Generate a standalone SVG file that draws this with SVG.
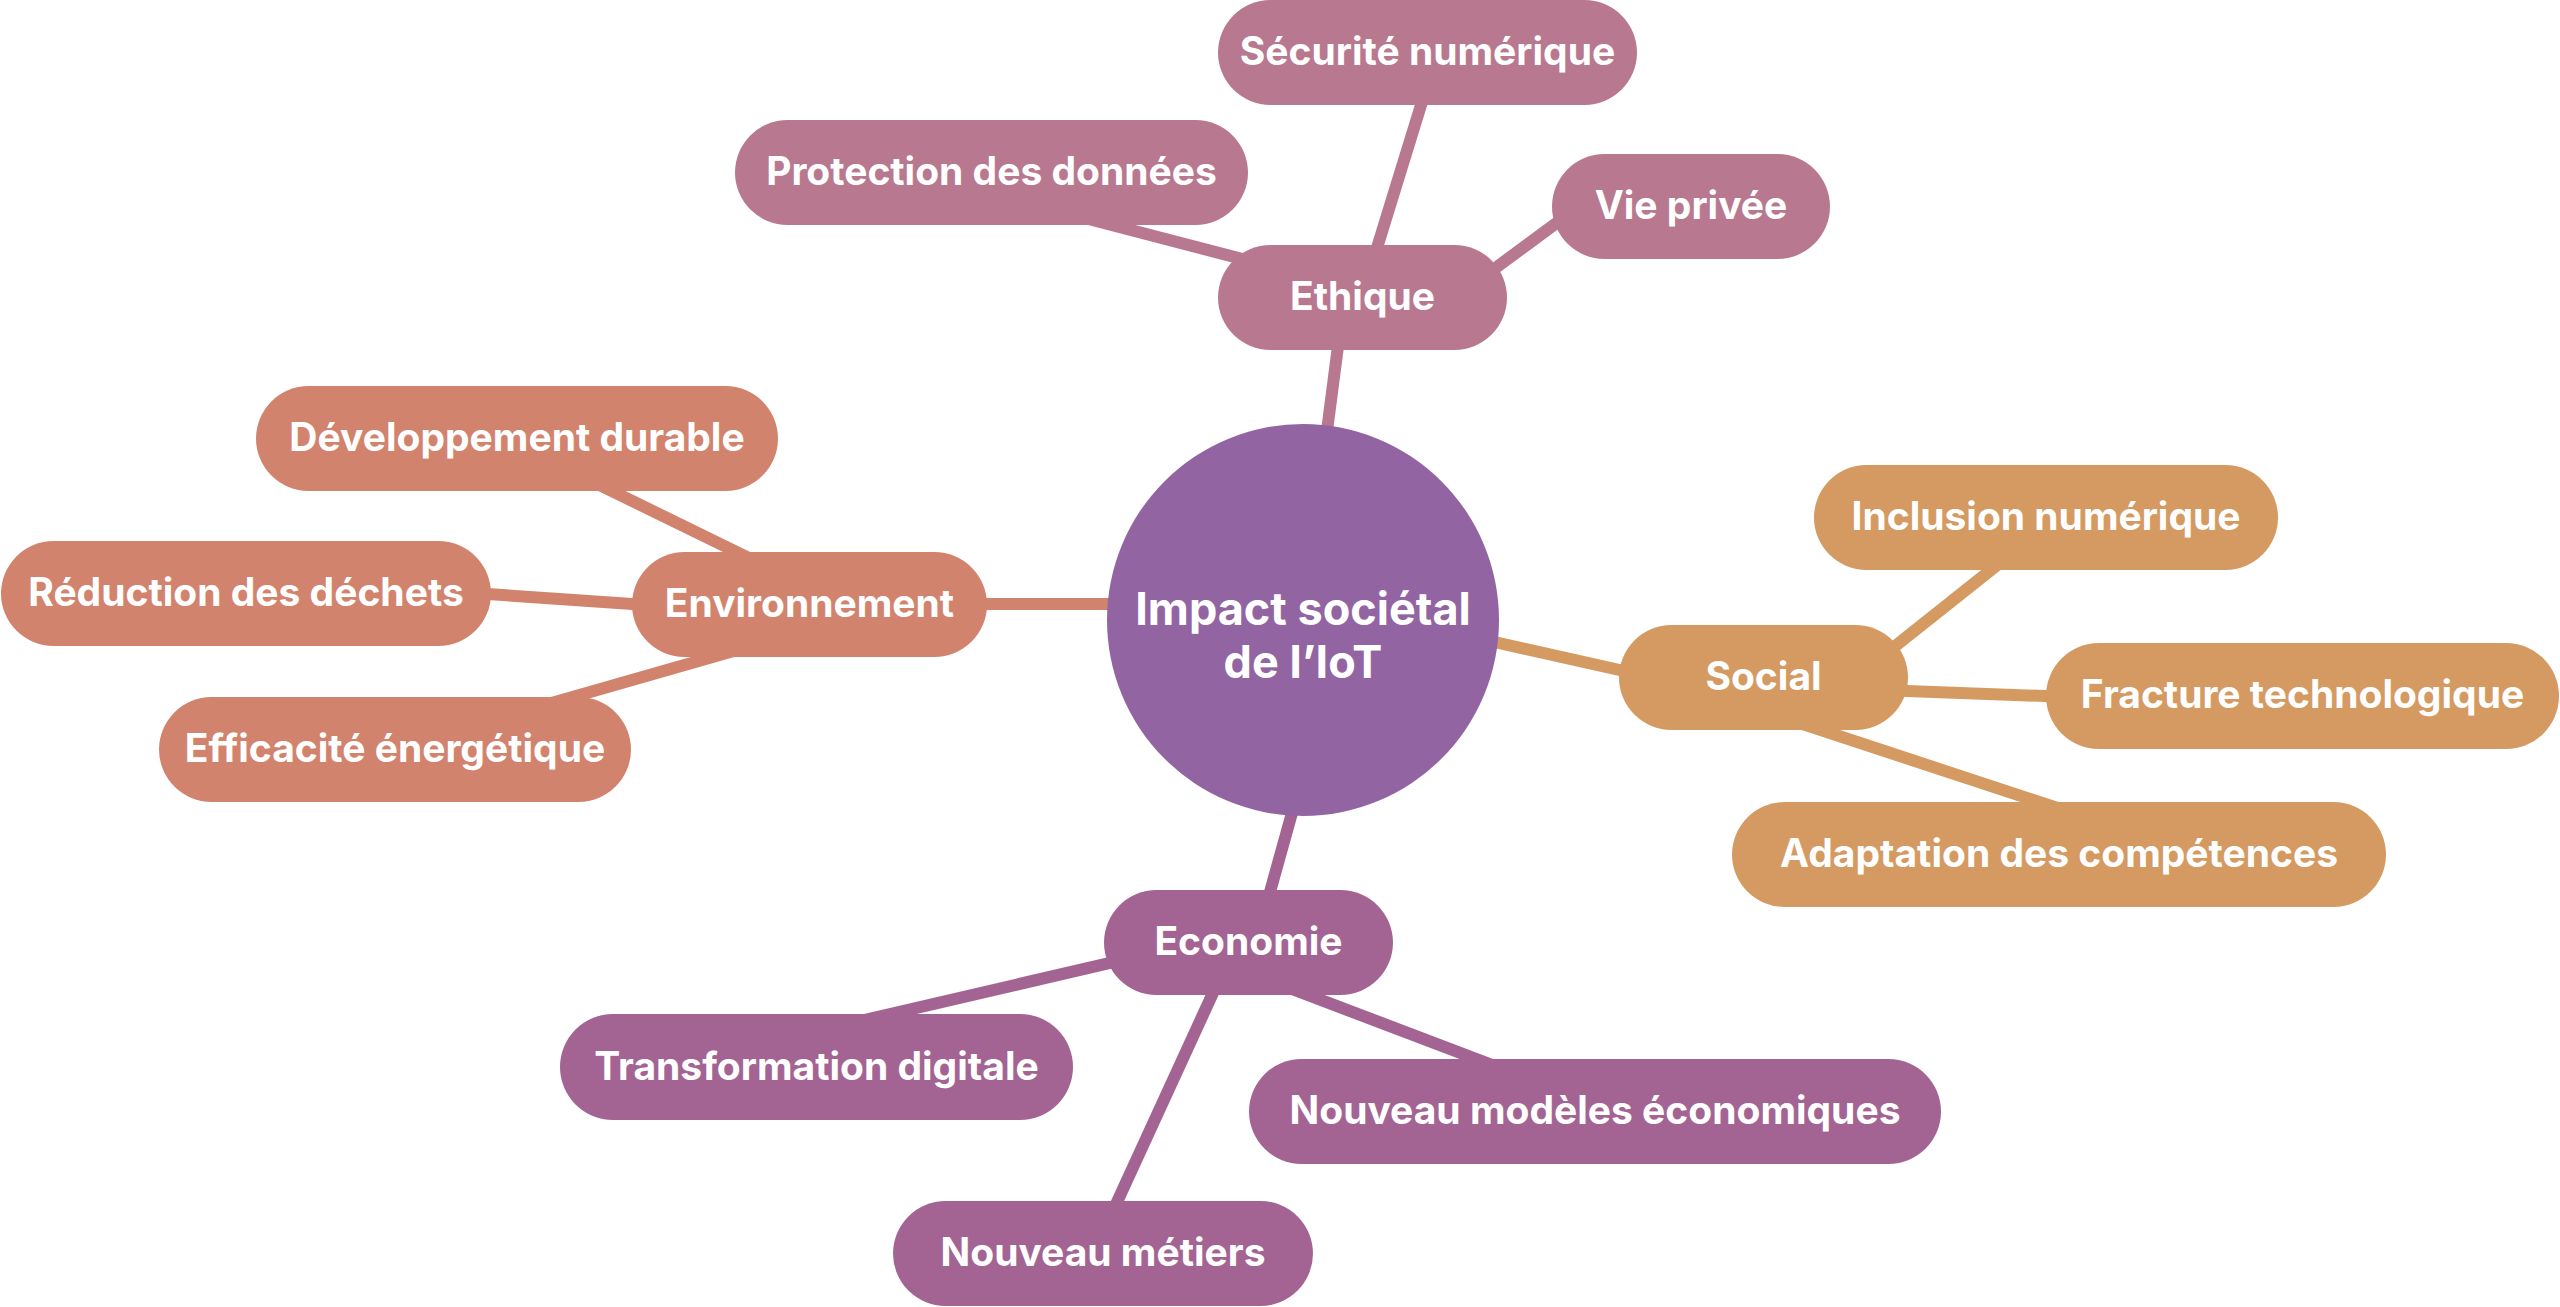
<svg xmlns="http://www.w3.org/2000/svg" width="2560" height="1307" viewBox="0 0 2560 1307">
<style>
  text { font-family: Inter, "Noto Sans", "Liberation Sans", sans-serif; font-weight: 700; fill: #ffffff; text-anchor: middle; }
  .lbl { font-size: 39px; }
  .center-lbl { font-size: 45px; }
  .eth { fill: #B8788F; }
  .env { fill: #D2836D; }
  .soc { fill: #D49A62; }
  .eco { fill: #A36493; }
  .ctr { fill: #9264A2; }
  .c-eth { stroke: #B8788F; }
  .c-env { stroke: #D2836D; }
  .c-soc { stroke: #D49A62; }
  .c-eco { stroke: #A36493; }
  #connectors line { stroke-width: 12; fill: none; }
</style>
<rect width="2560" height="1307" fill="#ffffff"/>
<g id="connectors">
  <line class="c-eth" x1="1344" y1="300" x2="1318" y2="500"/>
  <line class="c-eth" x1="1438" y1="50" x2="1364" y2="290"/>
  <line class="c-eth" x1="1000" y1="196" x2="1300" y2="274"/>
  <line class="c-eth" x1="1440" y1="309" x2="1620" y2="176"/>
  <line class="c-env" x1="900" y1="604" x2="1150" y2="604"/>
  <line class="c-env" x1="530" y1="451" x2="800" y2="583"/>
  <line class="c-env" x1="400" y1="588" x2="720" y2="610"/>
  <line class="c-env" x1="800" y1="632" x2="450" y2="732"/>
  <line class="c-soc" x1="1450" y1="632" x2="1700" y2="688"/>
  <line class="c-soc" x1="2040" y1="531" x2="1840" y2="690"/>
  <line class="c-soc" x1="1800" y1="687" x2="2150" y2="700"/>
  <line class="c-soc" x1="1760" y1="710" x2="2100" y2="822"/>
  <line class="c-eco" x1="1297" y1="795" x2="1258" y2="935"/>
  <line class="c-eco" x1="800" y1="1035" x2="1200" y2="942"/>
  <line class="c-eco" x1="1235" y1="945" x2="1095" y2="1250"/>
  <line class="c-eco" x1="1250" y1="973" x2="1550" y2="1087"/>
</g>
<g id="node-center">
  <circle class="ctr" cx="1303" cy="620" r="196"/>
  <text class="center-lbl" x="1303" y="625">Impact sociétal</text>
  <text class="center-lbl" x="1303" y="678">de l’IoT</text>
</g>
<g id="node-ethique">
  <rect class="eth" x="1218" y="245" width="289" height="105" rx="52.5"/>
  <text class="lbl" x="1362.5" y="310">Ethique</text>
</g>
<g id="node-securite">
  <rect class="eth" x="1218" y="0" width="419" height="105" rx="52.5"/>
  <text class="lbl" x="1427.5" y="65">Sécurité numérique</text>
</g>
<g id="node-protection">
  <rect class="eth" x="735" y="120" width="513" height="105" rx="52.5"/>
  <text class="lbl" x="991.5" y="185">Protection des données</text>
</g>
<g id="node-vie">
  <rect class="eth" x="1552" y="154" width="278" height="105" rx="52.5"/>
  <text class="lbl" x="1691" y="219">Vie privée</text>
</g>
<g id="node-environnement">
  <rect class="env" x="632" y="552" width="355" height="105" rx="52.5"/>
  <text class="lbl" x="809.5" y="617">Environnement</text>
</g>
<g id="node-developpement">
  <rect class="env" x="256" y="386" width="522" height="105" rx="52.5"/>
  <text class="lbl" x="517" y="451">Développement durable</text>
</g>
<g id="node-reduction">
  <rect class="env" x="1" y="541" width="490" height="105" rx="52.5"/>
  <text class="lbl" x="246" y="606">Réduction des déchets</text>
</g>
<g id="node-efficacite">
  <rect class="env" x="159" y="697" width="472" height="105" rx="52.5"/>
  <text class="lbl" x="395" y="762">Efficacité énergétique</text>
</g>
<g id="node-social">
  <rect class="soc" x="1619" y="625" width="289" height="105" rx="52.5"/>
  <text class="lbl" x="1763.5" y="690">Social</text>
</g>
<g id="node-inclusion">
  <rect class="soc" x="1814" y="465" width="464" height="105" rx="52.5"/>
  <text class="lbl" x="2046" y="530">Inclusion numérique</text>
</g>
<g id="node-fracture">
  <rect class="soc" x="2046" y="643" width="513" height="106" rx="53"/>
  <text class="lbl" x="2302.5" y="708">Fracture technologique</text>
</g>
<g id="node-adaptation">
  <rect class="soc" x="1732" y="802" width="654" height="105" rx="52.5"/>
  <text class="lbl" x="2059" y="867">Adaptation des compétences</text>
</g>
<g id="node-economie">
  <rect class="eco" x="1104" y="890" width="289" height="105" rx="52.5"/>
  <text class="lbl" x="1248.5" y="955">Economie</text>
</g>
<g id="node-transformation">
  <rect class="eco" x="560" y="1014" width="513" height="106" rx="53"/>
  <text class="lbl" x="816.5" y="1080">Transformation digitale</text>
</g>
<g id="node-modeles">
  <rect class="eco" x="1249" y="1059" width="692" height="105" rx="52.5"/>
  <text class="lbl" x="1595" y="1124">Nouveau modèles économiques</text>
</g>
<g id="node-metiers">
  <rect class="eco" x="893" y="1201" width="420" height="105" rx="52.5"/>
  <text class="lbl" x="1103" y="1266">Nouveau métiers</text>
</g>
</svg>
